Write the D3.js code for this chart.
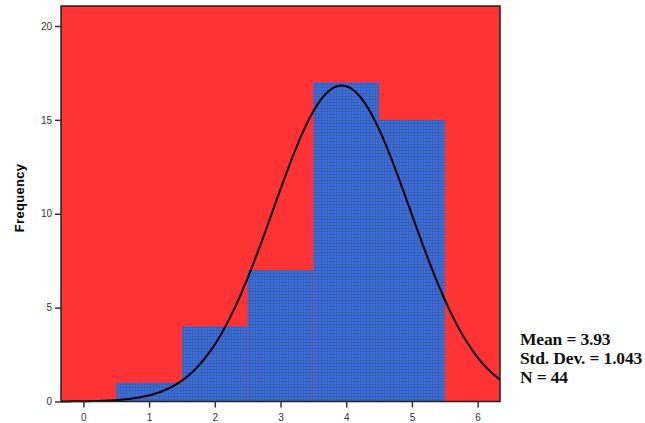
<!DOCTYPE html>
<html>
<head>
<meta charset="utf-8">
<script src="https://d3js.org/d3.v7.min.js"></script>
<style>
  body { margin: 0; background: #fff; }
</style>
</head>
<body>
<svg id="hist" width="645" height="423"></svg>
<script>
// data
const binMids = [1, 2, 3, 4, 5];
const counts = [1, 4, 7, 17, 15];
const xTicks = [0, 1, 2, 3, 4, 5, 6];
const yTicks = [0, 5, 10, 15, 20];
const mean = 3.93, sd = 1.043, n = 44;
const statLines = ["Mean = 3.93", "Std. Dev. = 1.043", "N = 44"];

const svg = d3.select("svg");
const plotL = 61, plotR = 500, plotT = 6, plotB = 401.5;

const x = d3.scaleLinear().domain([-0.34, 6.34]).range([plotL, plotR]);
const y = d3.scaleLinear().domain([0, 20]).range([plotB, 26]);

// grid pattern for the bars
const defs = svg.append("defs");
const pat = defs.append("pattern")
  .attr("id", "grid")
  .attr("width", 3).attr("height", 3)
  .attr("patternUnits", "userSpaceOnUse");
pat.append("rect").attr("width", 3).attr("height", 3).attr("fill", "#3a6cf2");
pat.append("rect").attr("width", 3).attr("height", 1).attr("fill", "#3a62a8");
pat.append("rect").attr("width", 1).attr("height", 3).attr("fill", "#3a62a8");

// plot background
svg.append("rect")
  .attr("x", plotL).attr("y", plotT)
  .attr("width", plotR - plotL).attr("height", plotB - plotT)
  .attr("fill", "#ff3333");

// bars
svg.append("g")
  .selectAll("rect")
  .data(binMids)
  .join("rect")
  .attr("x", d => x(d - 0.5))
  .attr("y", (d, i) => y(counts[i]))
  .attr("width", d => x(d + 0.5) - x(d - 0.5))
  .attr("height", (d, i) => plotB - y(counts[i]))
  .attr("fill", "url(#grid)");

// normal curve
const pts = d3.range(-0.34, 6.345, 0.02).map(v => [v, n * Math.exp(-0.5 * ((v - mean) / sd) ** 2) / (sd * Math.sqrt(2 * Math.PI))]);
svg.append("path")
  .datum(pts)
  .attr("d", d3.line().x(d => x(d[0])).y(d => y(d[1])))
  .attr("fill", "none")
  .attr("stroke", "#000")
  .attr("stroke-width", 2);

// frame
svg.append("rect")
  .attr("x", plotL).attr("y", plotT)
  .attr("width", plotR - plotL).attr("height", plotB - plotT)
  .attr("fill", "none")
  .attr("stroke", "#222")
  .attr("stroke-width", 1.5);

// axes
const xAxis = svg.append("g")
  .attr("transform", `translate(0,${plotB})`)
  .call(d3.axisBottom(x).tickValues(xTicks).tickFormat(d3.format("d")).tickSize(6).tickSizeOuter(0));
const yAxis = svg.append("g")
  .attr("transform", `translate(${plotL},0)`)
  .call(d3.axisLeft(y).tickValues(yTicks).tickFormat(d3.format("d")).tickSize(6).tickSizeOuter(0));
[xAxis, yAxis].forEach(a => {
  a.select(".domain").remove();
  a.selectAll("line").attr("stroke", "#333").attr("stroke-width", 1.5);
  a.selectAll("text").attr("font-family", "Arial, 'Liberation Sans', sans-serif")
    .attr("font-size", 10).attr("fill", "#333");
});
xAxis.selectAll("text").attr("dy", "1em");

svg.append("text")
  .attr("transform", "translate(24,198) rotate(-90)")
  .attr("text-anchor", "middle")
  .attr("font-family", "Arial, 'Liberation Sans', sans-serif")
  .attr("font-weight", "bold")
  .attr("font-size", 13)
  .attr("letter-spacing", 0.3)
  .text("Frequency");

// summary box
svg.append("g")
  .selectAll("text")
  .data(statLines)
  .join("text")
  .attr("x", 520)
  .attr("y", (d, i) => 345 + i * 19)
  .attr("font-family", "'Liberation Serif', 'Times New Roman', serif")
  .attr("font-weight", "bold")
  .attr("font-size", 17.5)
  .attr("letter-spacing", -0.15)
  .attr("fill", "#111")
  .text(d => d);
</script>
</body>
</html>
